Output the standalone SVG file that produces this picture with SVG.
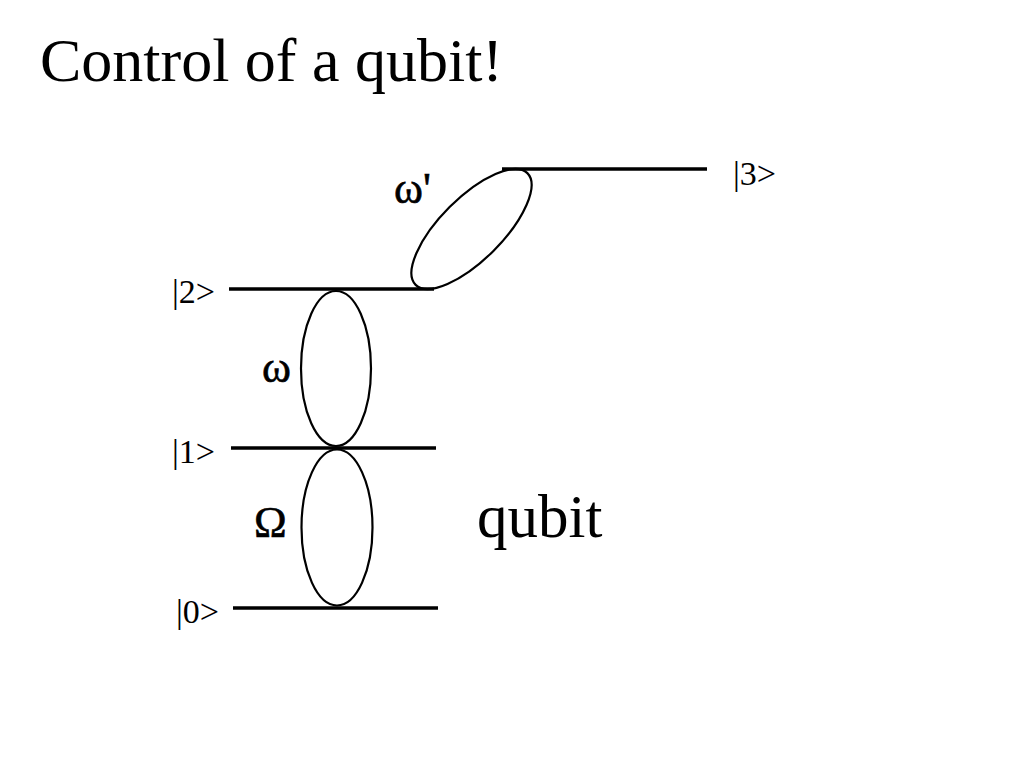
<svg xmlns="http://www.w3.org/2000/svg" width="1024" height="768" viewBox="0 0 1024 768">
<style>
.lvl{stroke:#000;stroke-width:3.5;fill:none}
.ell{stroke:#000;stroke-width:2.2;fill:none}
.t{font-family:"Liberation Serif","Times New Roman",serif;fill:#000}
.lab{font-size:34px}
.gr{font-size:44px;stroke:#000;stroke-width:0.6}
</style>
<rect width="1024" height="768" fill="#fff"/>
<text class="t" x="40" y="81" font-size="62" textLength="463" lengthAdjust="spacingAndGlyphs">Control of a qubit!</text>
<g id="connectors">
<ellipse id="omega-prime" class="ell" cx="471.5" cy="229" rx="79" ry="31" transform="rotate(-45 471.5 229)"/>
<ellipse id="omega" class="ell" cx="336" cy="368.5" rx="35" ry="77.5"/>
<ellipse id="Omega" class="ell" cx="337" cy="527.5" rx="35.5" ry="78"/>
</g>
<g id="level3"><line class="lvl" x1="502" y1="169" x2="707" y2="169"/><text class="t lab" x="733" y="185">|3&gt;</text></g>
<g id="level2"><line class="lvl" x1="229" y1="289" x2="434" y2="289"/><text class="t lab" x="172" y="303">|2&gt;</text></g>
<g id="level1"><line class="lvl" x1="231" y1="448" x2="436" y2="448"/><text class="t lab" x="172" y="463">|1&gt;</text></g>
<g id="level0"><line class="lvl" x1="233" y1="608" x2="438" y2="608"/><text class="t lab" x="176" y="623">|0&gt;</text></g>
<g id="labels">
<text class="t gr" x="394" y="203">ω'</text>
<text class="t gr" x="262" y="382">ω</text>
<text class="t gr" x="254" y="537">Ω</text>
<text class="t" x="477" y="537" font-size="61">qubit</text>
</g>
</svg>
